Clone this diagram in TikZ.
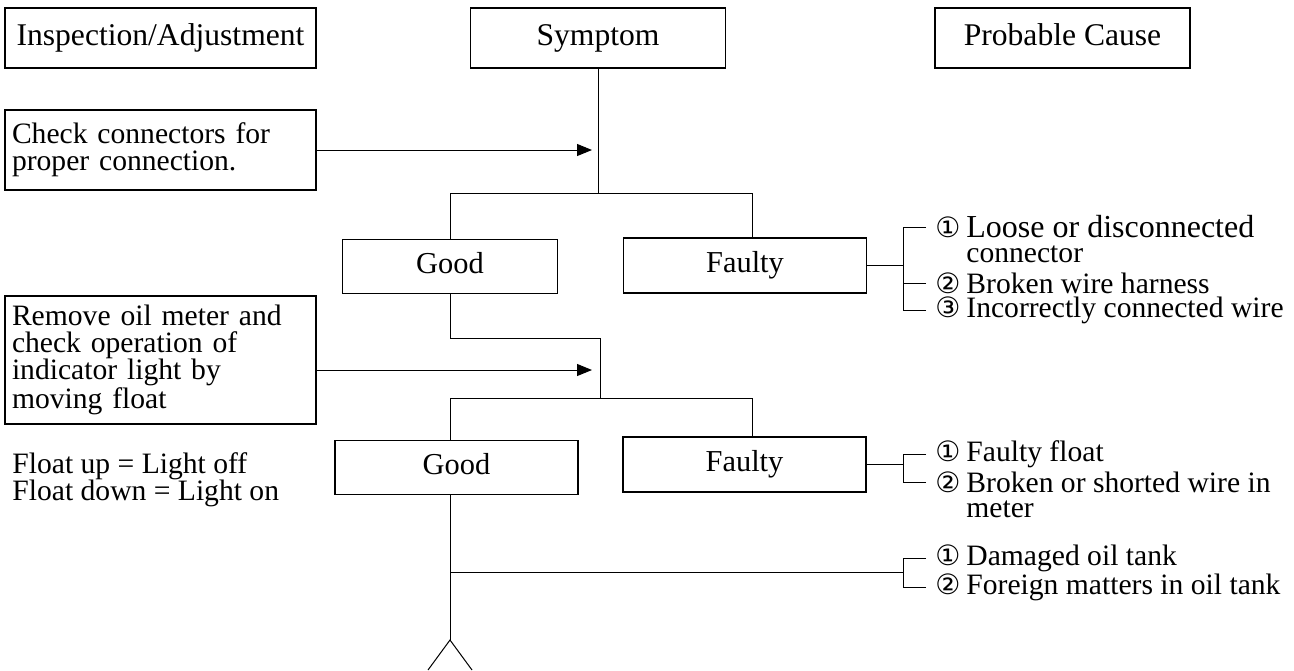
\documentclass[tikz,border=0pt]{standalone}
\usepackage{fontspec}
\setmainfont{Liberation Serif}
\newfontfamily\circfont{DejaVu Sans}
\usetikzlibrary{arrows.meta}
\setlength{\lineskiplimit}{-20pt}
\newcommand{\cnum}[1]{\makebox[15.5pt][l]{\circfont\fontsize{14}{14}\selectfont #1}}

\begin{document}
\begin{tikzpicture}[
          x=0.5pt, y=-0.5pt,
          font=\fontsize{14.8}{13.5}\selectfont,
          box/.style={draw, line width=0.6pt, inner sep=0pt, align=center},
          headbox/.style={box, minimum height=30pt, text height=11pt, text depth=3.5pt,
            font=\fontsize{15.8}{14}\selectfont},
          checkbox/.style={box, inner xsep=3.5pt, text width=148.5pt, align=left},
          resultbox/.style={box, minimum width=121.5pt, minimum height=27pt,
            text height=10.5pt, text depth=3.5pt, font=\fontsize{15.2}{14}\selectfont},
          cause/.style={anchor=west, inner xsep=4.5pt, inner ysep=0pt},
          arr/.style={-{Triangle[length=7.5pt, width=6pt]}, line width=0.5pt},
          link/.style={line width=0.5pt}
        ]
          \useasboundingbox (0,0) rectangle (1294,670);

          % column heads
          \node[headbox, minimum width=155.5pt] (insp) at (160.5,38) {Inspection/Adjustment};
          \node[headbox, minimum width=127.5pt] (symp) at (598,38) {Symptom};
          \node[headbox, minimum width=127.5pt] (probc) at (1062.5,38) {Probable Cause};

          % first check
          \node[checkbox, minimum height=40pt] (chk1) at (160.5,150) {Check connectors for\\proper connection.};
          \coordinate (a1) at (592,150);
          \coordinate (j1) at (598,193);
          \coordinate (j1l) at (450,193);
          \coordinate (j1r) at (752,193);
          \node[resultbox, minimum width=107.5pt] (good1) at (450,266.5) {Good};
          \node[resultbox, minimum height=27.5pt] (faulty1) at (745,265.5) {Faulty};
          \draw[arr] (chk1.east) -- (a1);
          \draw[link] (symp.south) -- (j1);
          \draw[link] (j1l) -- (j1r);
          \draw[link] (j1l) -- (good1.north);
          \draw[link] (j1r) -- (j1r |- faulty1.north);

          \coordinate (b1) at (903,265.5);
          \node[cause, font=\fontsize{16}{14}\selectfont] (c11) at (926,227) {\cnum{①}Loose or disconnected};
          \node[cause] (c11b) at (957,254) {connector};
          \node[cause] (c12) at (926,283) {\cnum{②}Broken wire harness};
          \node[cause] (c13) at (926,310) {\cnum{③}Incorrectly connected wire};
          \draw[link] (faulty1.east) -- (b1);
          \draw[link] (c11.west) -| (b1);
          \draw[link] (c13.west) -| (b1);
          \draw[link] (c12.west) -- (c12.west -| b1);

          % second check
          \node[checkbox, minimum height=64pt] (chk2) at (160.5,360) {Remove oil meter and\\check operation of\\indicator light by\\moving float};
          \node[anchor=west, align=left, inner sep=1pt] (float) at (10,480) {Float up = Light off\\Float down = Light on};
          \coordinate (a2) at (592,370);
          \coordinate (k1) at (450,338);
          \coordinate (j2) at (600,398);
          \coordinate (j2l) at (450,398);
          \coordinate (j2r) at (752,398);
          \node[resultbox] (good2) at (456.5,467.5) {Good};
          \node[resultbox, minimum height=27.5pt] (faulty2) at (744.5,464.5) {Faulty};
          \draw[arr] (chk2.east |- a2) -- (a2);
          \draw[link] (good1.south) -- (k1) -| (j2);
          \draw[link] (j2l) -- (j2r);
          \draw[link] (j2l) -- (j2l |- good2.north);
          \draw[link] (j2r) -- (j2r |- faulty2.north);

          \coordinate (b2) at (903,464.5);
          \node[cause] (c21) at (926,454) {\cnum{①}Faulty float};
          \node[cause] (c22) at (926,482) {\cnum{②}Broken or shorted wire in};
          \node[cause] (c22b) at (957,509) {meter};
          \draw[link] (faulty2.east) -- (b2);
          \draw[link] (c21.west) -| (b2);
          \draw[link] (c22.west) -| (b2);

          % last step
          \coordinate (v3) at (450,572);
          \coordinate (b3) at (903,572);
          \coordinate (apex) at (450,640);
          \coordinate (tl) at (428,670);
          \coordinate (tr) at (472,670);
          \node[cause] (c31) at (926,558) {\cnum{①}Damaged oil tank};
          \node[cause] (c32) at (926,587) {\cnum{②}Foreign matters in oil tank};
          \draw[link] (good2.south -| v3) -- (apex);
          \draw[link] (v3) -- (b3);
          \draw[link] (c31.west) -| (b3);
          \draw[link] (c32.west) -| (b3);
          \draw[link] (tl) -- (apex) -- (tr);
        \end{tikzpicture}
\end{document}
